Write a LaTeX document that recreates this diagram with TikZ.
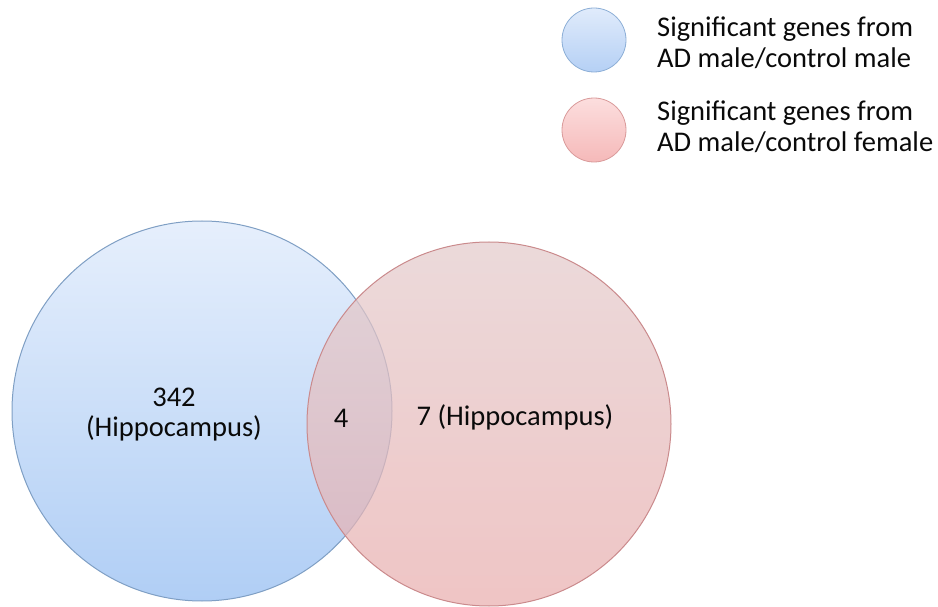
\documentclass[tikz,border=0pt]{standalone}
\usepackage{fontspec}
\setmainfont{Carlito}
\definecolor{bluetop}{HTML}{E6EFFC}
\definecolor{bluebot}{HTML}{B0CEF5}
\definecolor{blueedge}{HTML}{7F9FC4}
\definecolor{redtop}{HTML}{E3CBCC}
\definecolor{redbot}{HTML}{E9AEAE}
\definecolor{rededge}{HTML}{CA8A8C}
\definecolor{lbluetop}{HTML}{E0EBFB}
\definecolor{lbluebot}{HTML}{B5D0F5}
\definecolor{lblueedge}{HTML}{8CAED6}
\definecolor{lredtop}{HTML}{FCDEDE}
\definecolor{lredbot}{HTML}{F5B9B9}
\definecolor{lrededge}{HTML}{D99A9A}
\definecolor{txt}{HTML}{0A0A0A}
\tikzset{
  lbl/.style={font=\fontsize{28.5}{30}\selectfont, text=txt, align=center, inner sep=0pt},
  legtxt/.style={font=\fontsize{28.5}{31}\selectfont, text=txt, align=left, anchor=west, inner sep=0pt},
}
\begin{document}
\begin{tikzpicture}[x=1pt,y=-1pt]
\useasboundingbox (0,0) rectangle (938,607);
% main circles
\shade[top color=bluetop, bottom color=bluebot] (202,411) circle (190);
\draw[blueedge, line width=1pt] (202,411) circle (190);
\shade[top color=redtop, bottom color=redbot, fill opacity=0.72] (489,424) circle (182);
\draw[rededge, line width=1pt] (489,424) circle (182);
\node[circle, minimum size=380pt, inner sep=0pt] (blueset) at (202,411) {};
\node[circle, minimum size=364pt, inner sep=0pt] (redset) at (489,424) {};
% labels
\node[lbl] (lblue) at (174,415) {342\\(Hippocampus)};
\node[lbl] (lboth) at (341,418) {4};
\node[lbl] (lred) at (515,417) {7 (Hippocampus)};
% legend
\shade[top color=lbluetop, bottom color=lbluebot] (594,40) circle (32);
\draw[lblueedge, line width=0.8pt] (594,40) circle (32);
\shade[top color=lredtop, bottom color=lredbot] (594,130) circle (32);
\draw[lrededge, line width=0.8pt] (594,130) circle (32);
\node[circle, minimum size=64pt, inner sep=0pt] (legblue) at (594,40) {};
\node[circle, minimum size=64pt, inner sep=0pt] (legred) at (594,130) {};
\node[legtxt] (tblue) at (657,43) {Significant genes from\\AD male/control male};
\node[legtxt] (tred) at (657,127) {Significant genes from\\AD male/control female};
\end{tikzpicture}
\end{document}
